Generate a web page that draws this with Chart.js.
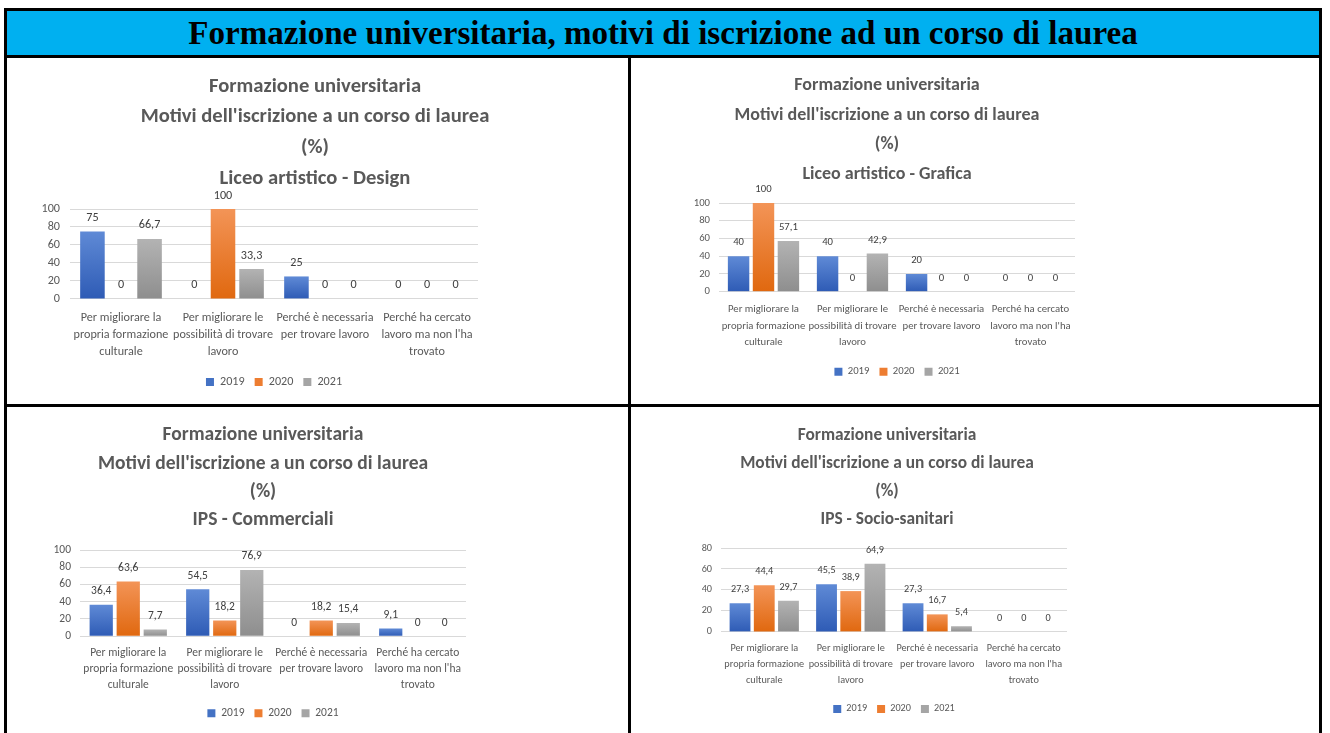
<!DOCTYPE html>
<html><head><meta charset="utf-8">
<script src="https://cdn.jsdelivr.net/npm/chart.js@4/dist/chart.umd.min.js"></script>
<style>
html,body{margin:0;padding:0;background:#fff;width:1330px;height:733px;overflow:hidden;}
.b{position:absolute;background:#000;}
#hdr{position:absolute;left:7px;top:11px;width:1312px;height:44px;background:#00B0F0;display:flex;align-items:center;justify-content:center;font-family:"Liberation Serif","Times New Roman",serif;font-weight:bold;color:#000;white-space:nowrap;}
canvas{position:absolute;}
</style></head><body>
<div id="hdr"><span id="hdrText">Formazione universitaria, motivi di iscrizione ad un corso di laurea</span></div>
<div class="b" style="left:4px;top:8px;width:1318px;height:3px"></div>
<div class="b" style="left:4px;top:8px;width:3px;height:725px"></div>
<div class="b" style="left:1319px;top:8px;width:3px;height:725px"></div>
<div class="b" style="left:4px;top:55px;width:1318px;height:3px"></div>
<div class="b" style="left:628px;top:58px;width:3px;height:675px"></div>
<div class="b" style="left:4px;top:404px;width:1318px;height:3px"></div>
<canvas id="c1"></canvas><canvas id="c2"></canvas><canvas id="c3"></canvas><canvas id="c4"></canvas>
<script>
// ---------- DATA ----------
const categories = [
  ["Per migliorare la", "propria formazione", "culturale"],
  ["Per migliorare le", "possibilità di trovare", "lavoro"],
  ["Perché è necessaria", "per trovare lavoro"],
  ["Perché ha cercato", "lavoro ma non l'ha", "trovato"]
];
const seriesNames = ["2019", "2020", "2021"];
const chartTitleLines = ["Formazione universitaria", "Motivi dell'iscrizione a un corso di laurea", "(%)"];
const panelSubtitles = ["Liceo artistico - Design", "Liceo artistico - Grafica", "IPS - Commerciali", "IPS - Socio-sanitari"];

const design2019 = [75, 0, 25, 0];
const design2020 = [0, 100, 0, 0];
const design2021 = [66.7, 33.3, 0, 0];

const grafica2019 = [40, 40, 20, 0];
const grafica2020 = [100, 0, 0, 0];
const grafica2021 = [57.1, 42.9, 0, 0];

const commerciali2019 = [36.4, 54.5, 0, 9.1];
const commerciali2020 = [63.6, 18.2, 18.2, 0];
const commerciali2021 = [7.7, 76.9, 15.4, 0];

const socio2019 = [27.3, 45.5, 27.3, 0];
const socio2020 = [44.4, 38.9, 16.7, 0];
const socio2021 = [29.7, 64.9, 5.4, 0];

const yAxisMax = [100, 100, 100, 80];
const yAxisStep = 20;

// ---------- STYLE / LAYOUT ----------
const FONT = "Calibri, Carlito, Lato, sans-serif";
const seriesSolid = ["#4472C4", "#ED7D31", "#A5A5A5"];
const seriesTop = ["#5F8AD6", "#F39457", "#B3B3B3"];
const seriesBottom = ["#2E5BB5", "#E0680F", "#8E8E8E"];

const panels = [
  {id:'c1', top:58,  titleCx:315, titleY1:84,  titleLH:30.67, titleW:342, plotL:70,  plotR:478,  plotT:209, plotB:299, catY1:318, catLH:17,   catW:76, legendY:382, tickPad:10},
  {id:'c2', top:58,  titleCx:887, titleY1:83,  titleLH:29.67, titleW:299, plotL:719, plotR:1075, plotT:203, plotB:292, catY1:310, catLH:16.5, catW:67, legendY:372, tickPad:9},
  {id:'c3', top:407, titleCx:263, titleY1:433, titleLH:28.33, titleW:324, plotL:80,  plotR:466,  plotT:550, plotB:636, catY1:653, catLH:16,   catW:72, legendY:713, tickPad:9},
  {id:'c4', top:407, titleCx:887, titleY1:433, titleLH:28,    titleW:288, plotL:721, plotR:1067, plotT:548, plotB:632, catY1:649, catLH:16,   catW:64, legendY:709, tickPad:9}
];
const panelData = [
  [design2019, design2020, design2021],
  [grafica2019, grafica2020, grafica2021],
  [commerciali2019, commerciali2020, commerciali2021],
  [socio2019, socio2020, socio2021]
];

const mctx = document.createElement('canvas').getContext('2d');
function fitSize(text, target, weight) {
  mctx.font = weight + ' 100px ' + FONT;
  return 100 * target / mctx.measureText(text).width;
}
// header
(function(){
  const span = document.getElementById('hdrText');
  const c = document.createElement('canvas').getContext('2d');
  c.font = 'bold 100px "Liberation Serif", serif';
  const s = 100 * 950 / c.measureText(span.textContent).width;
  document.getElementById('hdr').style.fontSize = s.toFixed(2) + 'px';
})();

function gradient(i) {
  return function(ctx) {
    const chart = ctx.chart;
    if (!chart.chartArea || ctx.type !== 'data') return seriesSolid[i];
    const y = chart.scales.y;
    const y0 = y.getPixelForValue(0), y1 = y.getPixelForValue(ctx.raw);
    if (!(y0 - y1 > 0.5)) return seriesSolid[i];
    const g = chart.ctx.createLinearGradient(0, y1, 0, y0);
    g.addColorStop(0, seriesTop[i]);
    g.addColorStop(1, seriesBottom[i]);
    return g;
  };
}

const valueLabels = {
  id: 'valueLabels',
  afterDatasetsDraw(chart, args, opts) {
    const ctx = chart.ctx;
    ctx.save();
    ctx.font = opts.size + 'px ' + FONT;
    ctx.fillStyle = '#404040';
    ctx.textAlign = 'center';
    ctx.textBaseline = 'middle';
    chart.data.datasets.forEach((ds, i) => {
      chart.getDatasetMeta(i).data.forEach((bar, j) => {
        ctx.fillText(String(ds.data[j]).replace('.', ','), bar.x, bar.y - opts.offset);
      });
    });
    ctx.restore();
  }
};

panels.forEach((p, k) => {
  const titleSize = fitSize(chartTitleLines[1], p.titleW, 'bold') * 1.02;
  const catSize = fitSize(categories[0][0], p.catW, 'normal') * 1.06;
  const numSize = catSize;
  const legSize = catSize;
  const yW = 55;
  const Lc = p.plotL - yW;
  const Wc = Math.round(2 * (p.titleCx - Lc));
  const rW = Lc + Wc - p.plotR;
  const padTop = p.titleY1 - p.titleLH / 2 - p.top + 2.5;
  const padBottom = p.plotT - (p.top + padTop + 4 * p.titleLH);
  const xPad = p.catY1 - p.plotB - p.catLH / 2;
  const legPad = 10;
  const xH = p.legendY - p.plotB - legPad - legSize / 2;
  const Hc = Math.round(p.legendY + legSize / 2 + 10 - p.top);

  const cv = document.getElementById(p.id);
  cv.width = Wc; cv.height = Hc;
  cv.style.left = Lc + 'px'; cv.style.top = p.top + 'px';
  cv.style.width = Wc + 'px'; cv.style.height = Hc + 'px';

  new Chart(cv, {
    type: 'bar',
    data: {
      labels: categories,
      datasets: seriesNames.map((n, i) => ({
        label: n,
        data: panelData[k][i],
        backgroundColor: gradient(i),
        borderWidth: 0,
        categoryPercentage: 0.84,
        barPercentage: 0.86
      }))
    },
    options: {
      responsive: false,
      animation: false,
      devicePixelRatio: 1,
      layout: { padding: 0 },
      plugins: {
        title: {
          display: true,
          text: chartTitleLines.concat([panelSubtitles[k]]),
          color: '#595959',
          font: { family: FONT, size: titleSize, weight: 'bold', lineHeight: p.titleLH / titleSize },
          padding: { top: padTop, bottom: padBottom }
        },
        legend: {
          position: 'bottom',
          fullSize: false,
          labels: {
            boxWidth: 8, boxHeight: 8, padding: legPad, color: '#595959',
            font: { family: FONT, size: legSize },
            generateLabels(chart) {
              const items = Chart.defaults.plugins.legend.labels.generateLabels(chart);
              items.forEach((it, i) => { it.fillStyle = seriesSolid[i]; it.strokeStyle = seriesSolid[i]; it.lineWidth = 0; });
              return items;
            }
          }
        },
        tooltip: { enabled: false },
        valueLabels: { size: numSize, offset: 13.5 }
      },
      scales: {
        x: {
          grid: { display: false, drawTicks: false },
          border: { display: false },
          ticks: {
            color: '#595959', padding: xPad, maxRotation: 0, minRotation: 0, autoSkip: false,
            font: { family: FONT, size: catSize, lineHeight: p.catLH / catSize }
          },
          afterFit(s) { s.height = xH; }
        },
        y: {
          min: 0, max: yAxisMax[k],
          grid: { color: '#D9D9D9', lineWidth: 1, drawTicks: false },
          border: { display: false },
          ticks: { stepSize: yAxisStep, color: '#595959', padding: p.tickPad, font: { family: FONT, size: numSize } },
          afterFit(s) { s.width = yW; }
        },
        yR: {
          type: 'linear', position: 'right', display: true,
          grid: { display: false, drawTicks: false },
          border: { display: false },
          ticks: { display: false },
          afterFit(s) { s.width = rW; }
        }
      }
    },
    plugins: [valueLabels]
  });
});
</script>
</body></html>
